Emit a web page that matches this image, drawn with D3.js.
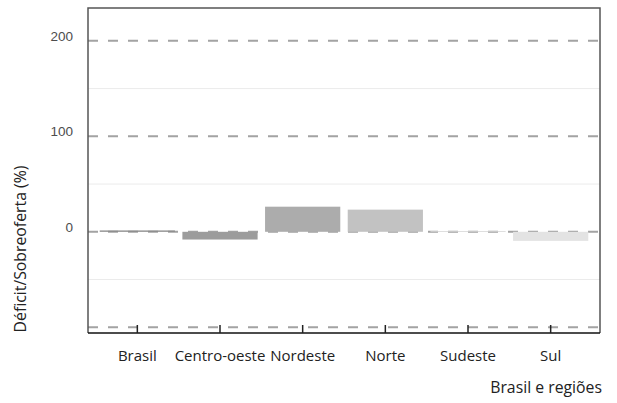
<!DOCTYPE html>
<html>
<head>
<meta charset="utf-8">
<script src="https://cdn.jsdelivr.net/npm/d3@7"></script>
<style>
  body { margin: 0; background: #fff; }
  svg { display: block; font-family: 'Open Sans', sans-serif; }
</style>
</head>
<body>
<svg id="chart"></svg>
<script>
// Categories and values (percent)
let regions = ['Brasil', 'Centro-oeste', 'Nordeste', 'Norte', 'Sudeste', 'Sul'];
let values = [1.4, -8.1, 26.3, 23.2, 0.8, -9.5];
let barColors = ['#8a8a8a', '#9c9c9c', '#acacac', '#c2c2c2', '#d5d5d5', '#e3e3e3'];

// Y axis ticks
let majorTicks = [200, 100, 0, -100];
let labelTicks = [200, 100, 0];
let minorTicks = [150, 50, -50];

let width = 617;
let height = 403;
let plotLeft = 88, plotRight = 600, plotTop = 8, plotBottom = 333;

let svg = d3.select('#chart')
    .attr('width', width)
    .attr('height', height);

let xScale = d3.scaleBand()
    .domain(regions)
    .range([96, 592])
    .paddingInner(0.09)
    .paddingOuter(0.045);

let yScale = d3.scaleLinear()
    .domain([-106, 234.4])
    .range([plotBottom, plotTop]);

// light solid grid lines
svg.append('g')
    .selectAll('line')
    .data(minorTicks)
    .enter()
    .append('line')
    .attr('x1', plotLeft)
    .attr('x2', plotRight)
    .attr('y1', (d) => yScale(d))
    .attr('y2', (d) => yScale(d))
    .attr('stroke', '#ebebeb')
    .attr('stroke-width', 1);

// dashed grid lines
svg.append('g')
    .selectAll('line')
    .data(majorTicks)
    .enter()
    .append('line')
    .attr('x1', plotLeft)
    .attr('x2', plotRight)
    .attr('y1', (d) => yScale(d))
    .attr('y2', (d) => yScale(d))
    .attr('stroke', '#a3a3a3')
    .attr('stroke-width', 2)
    .attr('stroke-dasharray', '10,10');

// bars
svg.append('g')
    .selectAll('rect')
    .data(regions)
    .enter()
    .append('rect')
    .attr('x', (d) => xScale(d))
    .attr('width', xScale.bandwidth())
    .attr('y', (d, i) => yScale(Math.max(0, values[i])))
    .attr('height', (d, i) => Math.abs(yScale(values[i]) - yScale(0)))
    .attr('fill', (d, i) => barColors[i]);

// y tick labels
svg.append('g')
    .selectAll('text')
    .data(labelTicks)
    .enter()
    .append('text')
    .attr('x', 73)
    .attr('y', (d) => yScale(d))
    .attr('text-anchor', 'end')
    .attr('font-size', 13.5)
    .attr('fill', '#4d4d4d')
    .attr('font-family', 'Liberation Sans, Arial, sans-serif')
    .text((d) => d);

// frame
svg.append('path')
    .attr('d', `M${plotLeft},${plotBottom}V${plotTop}H${plotRight}V${plotBottom}`)
    .attr('fill', 'none')
    .attr('stroke', '#555')
    .attr('stroke-width', 1.5);

// x axis with inward ticks
let xAxis = d3.axisBottom(xScale)
    .tickSize(-8)
    .tickSizeOuter(0)
    .tickPadding(17);

let gx = svg.append('g')
    .attr('transform', 'translate(0,' + plotBottom + ')')
    .call(xAxis);
gx.select('.domain')
    .attr('d', `M${plotLeft},0H${plotRight}`)
    .attr('stroke', '#111')
    .attr('stroke-width', 1.5);
gx.selectAll('.tick line')
    .attr('stroke', '#222')
    .attr('stroke-width', 1.5);
gx.selectAll('.tick text')
    .attr('font-size', 15)
    .attr('font-family', 'Open Sans, sans-serif')
    .attr('fill', '#222');

// axis titles
svg.append('text')
    .attr('x', 602)
    .attr('y', 393)
    .attr('text-anchor', 'end')
    .attr('font-size', 15.8)
    .attr('fill', '#222')
    .text('Brasil e regiões');

svg.append('text')
    .attr('transform', 'translate(26,249) rotate(-90)')
    .attr('text-anchor', 'middle')
    .attr('font-size', 15.8)
    .attr('fill', '#222')
    .text('Déficit/Sobreoferta (%)');
</script>
</body>
</html>
